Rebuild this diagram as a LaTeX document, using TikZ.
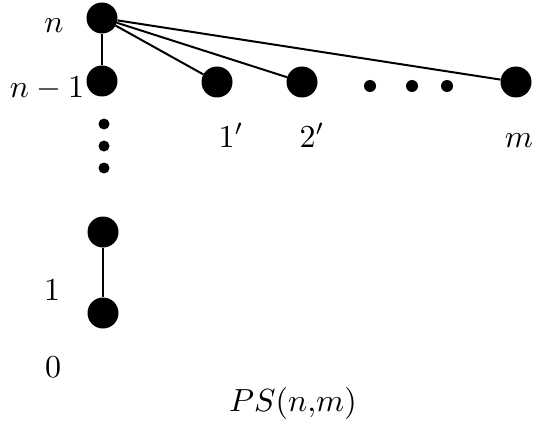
\documentclass[tikz,border=0pt]{standalone}
\begin{document}
\begin{tikzpicture}[x=1pt,y=-1pt,
  big/.style={circle,fill=black,inner sep=0pt,minimum size=31pt},
  sdot/.style={circle,fill=black,inner sep=0pt,minimum size=11pt},
  lab/.style={anchor=base,inner sep=0pt,scale=3.2},
  edge/.style={line width=2pt}]
\useasboundingbox (0,0) rectangle (537,425);
\node[big] (n) at (102,18) {};
\node[big] (n1) at (102,81) {};
\node[big] (a) at (217,82) {};
\node[big] (b) at (302,82) {};
\node[big] (m) at (516,82) {};
\node[big] (t) at (103,232) {};
\node[big] (o) at (103,313) {};
\node[sdot,minimum size=12pt] (h1) at (370,86) {};
\node[sdot,minimum size=12pt] (h2) at (412,86) {};
\node[sdot,minimum size=12pt] (h3) at (447,86) {};
\node[sdot] (v1) at (104,124) {};
\node[sdot] (v2) at (104,146) {};
\node[sdot] (v3) at (104,168) {};
\draw[edge] (n) -- (n1);
\draw[edge] (n) -- (a);
\draw[edge] (n) -- (b);
\draw[edge] (n) -- (m);
\draw[edge] (t) -- (o);
\node[lab] (ln) at (54,33) {$n$};
\node[lab] (ln1) at (47,97) {$n-1$};
\node[lab] (l1) at (52,300) {$1$};
\node[lab] (l0) at (53,377) {$0$};
\node[lab] (la) at (231,147) {$1'$};
\node[lab] (lb) at (312,147) {$2'$};
\node[lab] (lm) at (519,147) {$m$};
\node[lab] (ps) at (293,411) {$PS(n{,}m)$};
\end{tikzpicture}
\end{document}
